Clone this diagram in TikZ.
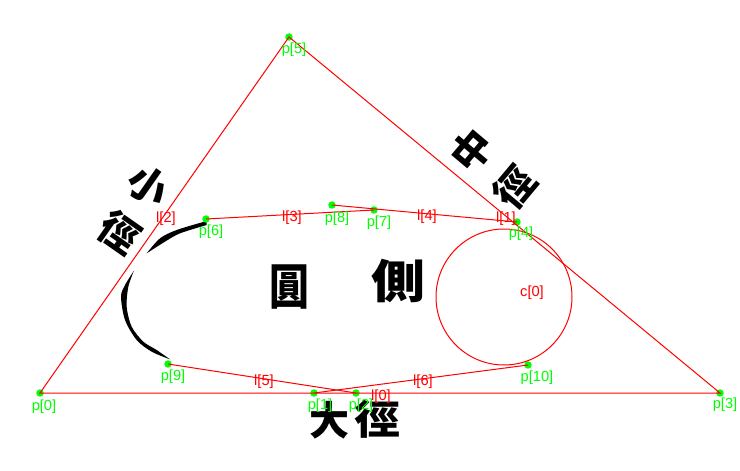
\documentclass[tikz,border=0pt]{standalone}
\usepackage{fontspec}
\setmainfont{Liberation Sans}
\newfontfamily\cjk{Noto Sans CJK TC}[Scale=1]
\tikzset{
  x=0.75pt,y=-0.75pt,
  pt/.style={circle,fill=ptgreen,inner sep=0pt,minimum size=5.6pt},
  plab/.style={text=ptgreen,font=\fontsize{11pt}{12pt}\selectfont,inner sep=0pt},
  rlab/.style={text=linered,font=\fontsize{11pt}{12pt}\selectfont,inner sep=0pt},
  rline/.style={draw=linered,line width=0.75pt},
  hanzi/.style={font=\cjk\bfseries\fontsize{30pt}{32pt}\selectfont,text=black,inner sep=0pt},
}
\definecolor{ptgreen}{RGB}{0,255,0}
\definecolor{linered}{RGB}{255,0,0}
\begin{document}
\begin{tikzpicture}
\useasboundingbox (0,0) rectangle (740,471);
% crescent
\begin{scope}[shift={(80,150)},x=0.25pt,y=-0.25pt]
\fill[black] plot[smooth] coordinates {(200,310)(240,265)(290,240)(380,213)} -- plot[smooth] coordinates {(380,225)(300,250)(255,275)(200,310)} -- cycle;
\fill[black] plot[smooth] coordinates {(162,362)(135,405)(123,440)(135,510)(170,570)(215,605)(270,628)} -- plot[smooth] coordinates {(270,628)(230,600)(190,575)(155,530)(140,470)(145,410)(162,362)} -- cycle;
\end{scope}
% points
\node[pt] (p0) at (40,393) {};
\node[pt] (p1) at (314,393) {};
\node[pt] (p2) at (356,393) {};
\node[pt] (p3) at (720,393) {};
\node[pt] (p4) at (517,222) {};
\node[pt] (p5) at (289,37) {};
\node[pt] (p6) at (206,219) {};
\node[pt] (p7) at (374,210) {};
\node[pt] (p8) at (332,205) {};
\node[pt] (p9) at (168,364) {};
\node[pt] (p10) at (528,365) {};
% lines
\draw[rline] (p0.center) -- (p3.center) -- (p5.center) -- cycle;
\draw[rline] (p6.center) -- (p7.center);
\draw[rline] (p8.center) -- (p4.center);
\draw[rline] (p9.center) -- (p2.center);
\draw[rline] (p10.center) -- (p1.center);
\node[rline,circle,inner sep=0pt,minimum size=102pt] (c0) at (504,297) {};
% texts
\node[hanzi,rotate=-35] (t1) at (148,186) {小};
\node[hanzi,rotate=-35] (t2) at (120,233) {徑};
\node[hanzi,rotate=50] (t3) at (472,150) {中};
\node[hanzi,rotate=50] (t4) at (515,187) {徑};
\node[hanzi] (t5) at (329,420) {大};
\node[hanzi,xscale=1.15] (t6) at (377,419) {徑};
\node[hanzi,yscale=1.22] (t7) at (289,287) {圓};
\node[hanzi,xscale=1.35,yscale=1.15] (t8) at (398,281) {側};
% labels
\node[plab] (lp0) at (44,406.5) {p[0]};
\node[plab] (lp1) at (320,405.5) {p[1]};
\node[plab] (lp2) at (361,405.5) {p[2]};
\node[plab] (lp3) at (725,404.5) {p[3]};
\node[plab] (lp4) at (521,234) {p[4]};
\node[plab] (lp5) at (294,49.5) {p[5]};
\node[plab] (lp6) at (211,232) {p[6]};
\node[plab] (lp7) at (379,222.5) {p[7]};
\node[plab] (lp8) at (337,218.5) {p[8]};
\node[plab] (lp9) at (173,377) {p[9]};
\node[plab] (lp10) at (537,377.5) {p[10]};
\node[rlab] (l0) at (381,397) {l[0]};
\node[rlab] (l1) at (506,219) {l[1]};
\node[rlab] (l2) at (166,219) {l[2]};
\node[rlab] (l3) at (292,218) {l[3]};
\node[rlab] (l4) at (427,217) {l[4]};
\node[rlab] (l5) at (264,382) {l[5]};
\node[rlab] (l6) at (423,382) {l[6]};
\node[rlab] (c0l) at (532,293) {c[0]};
\end{tikzpicture}
\end{document}
